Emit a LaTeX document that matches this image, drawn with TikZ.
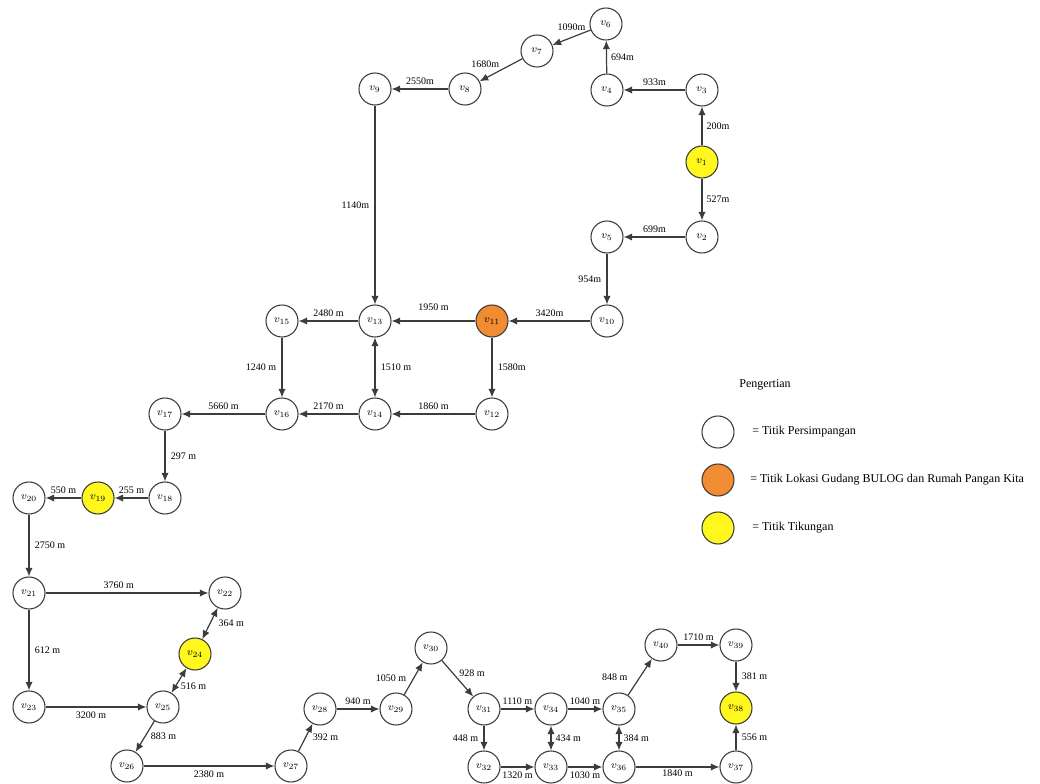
\documentclass[tikz,border=0pt]{standalone}
\usepackage{fontspec}
\setmainfont{Liberation Serif}
\usepackage{xcolor}
\usepackage{tikz}
\usetikzlibrary{arrows.meta}
\definecolor{tkyellow}{RGB}{255,247,30}
\definecolor{tkorange}{RGB}{242,140,50}
\definecolor{tkline}{RGB}{60,60,60}

\begin{document}
\begin{tikzpicture}[
    x=0.75pt,
    y=-0.75pt,
    vert/.style={circle, draw=tkline, line width=0.8pt, fill=white, minimum size=24pt, inner sep=0pt, font=\fontsize{8}{9}\selectfont},
    turnpt/.style={vert, fill=tkyellow},
    depot/.style={vert, fill=tkorange},
    dist/.style={font=\fontsize{7.5}{9}\selectfont, inner sep=1pt},
    legtext/.style={font=\fontsize{9}{11}\selectfont, anchor=west, inner sep=0pt},
    arrow/.style={-{Latex[length=6.5pt, width=5.5pt]}, line width=0.9pt, draw=tkline},
    twoway/.style={{Latex[length=6.5pt, width=5.5pt]}-{Latex[length=6.5pt, width=5.5pt]}, line width=0.9pt, draw=tkline}
]
\useasboundingbox (0,0) rectangle (1040,784);
% upper loop
\node[turnpt] (v1) at (702,162) {$v_{1}$};
\node[vert] (v2) at (702,237) {$v_{2}$};
\node[vert] (v3) at (702,90) {$v_{3}$};
\node[vert] (v4) at (607,90) {$v_{4}$};
\node[vert] (v5) at (607,237) {$v_{5}$};
\node[vert] (v6) at (606,24) {$v_{6}$};
\node[vert] (v7) at (537,51) {$v_{7}$};
\node[vert] (v8) at (465,89) {$v_{8}$};
\node[vert] (v9) at (375,89) {$v_{9}$};
\node[vert] (v10) at (607,321) {$v_{10}$};
\node[depot] (v11) at (492,321) {$v_{11}$};
\node[vert] (v12) at (492,414) {$v_{12}$};
\node[vert] (v13) at (375,321) {$v_{13}$};
\node[vert] (v14) at (375,414) {$v_{14}$};
\node[vert] (v15) at (282,321) {$v_{15}$};
\node[vert] (v16) at (282,414) {$v_{16}$};
\node[vert] (v17) at (165,414) {$v_{17}$};
\node[vert] (v18) at (165,498) {$v_{18}$};
\node[turnpt] (v19) at (98,498) {$v_{19}$};
\node[vert] (v20) at (29,498) {$v_{20}$};
% lower part
\node[vert] (v21) at (29,593) {$v_{21}$};
\node[vert] (v22) at (225,593) {$v_{22}$};
\node[vert] (v23) at (29,707) {$v_{23}$};
\node[turnpt] (v24) at (195,654) {$v_{24}$};
\node[vert] (v25) at (163,707) {$v_{25}$};
\node[vert] (v26) at (127,766) {$v_{26}$};
\node[vert] (v27) at (291,766) {$v_{27}$};
\node[vert] (v28) at (320,709) {$v_{28}$};
\node[vert] (v29) at (396,709) {$v_{29}$};
\node[vert] (v30) at (431,648) {$v_{30}$};
\node[vert] (v31) at (484,709) {$v_{31}$};
\node[vert] (v32) at (484,767) {$v_{32}$};
\node[vert] (v33) at (551,767) {$v_{33}$};
\node[vert] (v34) at (551,709) {$v_{34}$};
\node[vert] (v35) at (619,709) {$v_{35}$};
\node[vert] (v36) at (619,767) {$v_{36}$};
\node[vert] (v37) at (736,767) {$v_{37}$};
\node[turnpt] (v38) at (736,708) {$v_{38}$};
\node[vert] (v39) at (736,645) {$v_{39}$};
\node[vert] (v40) at (661,645) {$v_{40}$};
% legend
\node[font=\fontsize{9}{11}\selectfont] (legtitle) at (765,385) {Pengertian};
\node[vert] (legjunc) at (718,432) {};
\node[depot] (legdepot) at (718,480) {};
\node[turnpt] (legturn) at (718,528) {};
\node[legtext] at (752,432) {= Titik Persimpangan};
\node[legtext] at (750,480) {= Titik Lokasi Gudang BULOG dan Rumah Pangan Kita};
\node[legtext] at (752,528) {= Titik Tikungan};
% roads
\draw[arrow] (v1) -- node[dist, right=2pt] {200m} (v3);
\draw[arrow] (v1) -- node[dist, right=2pt] {527m} (v2);
\draw[arrow] (v3) -- node[dist, above=2pt] {933m} (v4);
\draw[arrow] (v4) -- node[dist, right=2pt] {694m} (v6);
\draw[arrow] (v6) -- node[dist, above=4pt] {1090m} (v7);
\draw[arrow] (v7) -- node[dist, above left] {1680m} (v8);
\draw[arrow] (v8) -- node[dist, above=2pt] {2550m} (v9);
\draw[arrow] (v9) -- node[dist, left=3pt] {1140m} (v13);
\draw[arrow] (v2) -- node[dist, above=2pt] {699m} (v5);
\draw[arrow] (v5) -- node[dist, left=3pt] {954m} (v10);
\draw[arrow] (v10) -- node[dist, above=2pt] {3420m} (v11);
\draw[arrow] (v11) -- node[dist, above=6pt] {1950 m} (v13);
\draw[arrow] (v11) -- node[dist, right=3pt] {1580m} (v12);
\draw[arrow] (v13) -- node[dist, above=2pt] {2480 m} (v15);
\draw[arrow] (v15) -- node[dist, left=3pt] {1240 m} (v16);
\draw[twoway] (v13) -- node[dist, right=3pt] {1510 m} (v14);
\draw[arrow] (v12) -- node[dist, above=2pt] {1860 m} (v14);
\draw[arrow] (v14) -- node[dist, above=2pt] {2170 m} (v16);
\draw[arrow] (v16) -- node[dist, above=2pt] {5660 m} (v17);
\draw[arrow] (v17) -- node[dist, right=3pt] {297 m} (v18);
\draw[arrow] (v18) -- node[dist, above=2pt] {255 m} (v19);
\draw[arrow] (v19) -- node[dist, above=2pt] {550 m} (v20);
\draw[arrow] (v20) -- node[dist, right=3pt] {2750 m} (v21);
\draw[arrow] (v21) -- node[dist, above=2pt, pos=0.45] {3760 m} (v22);
\draw[arrow] (v21) -- node[dist, right=3pt] {612 m} (v23);
\draw[twoway] (v22) -- node[dist, right=5pt] {364 m} (v24);
\draw[twoway] (v24) -- node[dist, below right] {516 m} (v25);
\draw[arrow] (v23) -- node[dist, below=2pt, pos=0.45] {3200 m} (v25);
\draw[arrow] (v25) -- node[dist, right=3pt] {883 m} (v26);
\draw[arrow] (v26) -- node[dist, below=2pt] {2380 m} (v27);
\draw[arrow] (v27) -- node[dist, right=4pt] {392 m} (v28);
\draw[arrow] (v28) -- node[dist, above=2pt] {940 m} (v29);
\draw[arrow] (v29) -- node[dist, left=4pt] {1050 m} (v30);
\draw[arrow] (v30) -- node[dist, above right] {928 m} (v31);
\draw[arrow] (v31) -- node[dist, above=2pt] {1110 m} (v34);
\draw[arrow] (v31) -- node[dist, left=3pt] {448 m} (v32);
\draw[arrow] (v32) -- node[dist, below=2pt] {1320 m} (v33);
\draw[twoway] (v34) -- node[dist, right=2pt] {434 m} (v33);
\draw[arrow] (v34) -- node[dist, above=2pt] {1040 m} (v35);
\draw[arrow] (v33) -- node[dist, below=2pt] {1030 m} (v36);
\draw[twoway] (v35) -- node[dist, right=2pt] {384 m} (v36);
\draw[arrow] (v35) -- node[dist, left=8pt] {848 m} (v40);
\draw[arrow] (v40) -- node[dist, above=2pt] {1710 m} (v39);
\draw[arrow] (v39) -- node[dist, right=3pt] {381 m} (v38);
\draw[arrow] (v36) -- node[dist, below=1pt] {1840 m} (v37);
\draw[arrow] (v37) -- node[dist, right=3pt] {556 m} (v38);
\end{tikzpicture}
\end{document}
